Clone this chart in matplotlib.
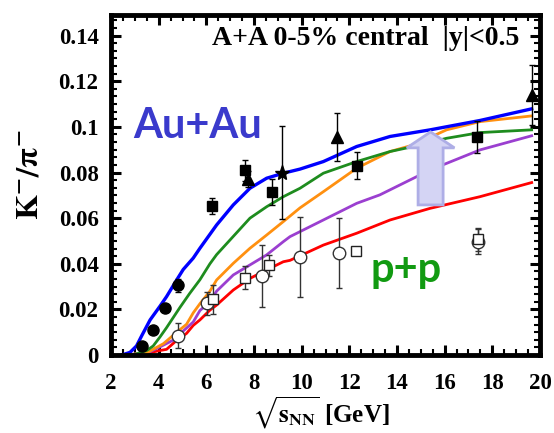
import matplotlib
matplotlib.use('Agg')
import matplotlib.pyplot as plt
from matplotlib.ticker import MultipleLocator, AutoMinorLocator
from matplotlib.patches import FancyArrow

plt.rcParams['mathtext.fontset'] = 'stix'
serif = 'Liberation Serif'

# ---- model curves (K-/pi- vs sqrt(s_NN))
blue_x = [2.45, 2.8, 3.07, 3.29, 3.64, 4.06, 4.33, 4.76, 5.03, 5.45, 5.73, 6.43, 7.13, 7.83, 8.53, 9.23, 9.93, 10.91, 12.31, 13.71, 15.39, 17.48, 19.65]
blue_y = [0.0, 0.0012, 0.004, 0.0085, 0.0154, 0.0215, 0.0256, 0.033, 0.0375, 0.0425, 0.0468, 0.057, 0.0658, 0.0731, 0.0775, 0.0797, 0.0815, 0.0848, 0.0914, 0.0958, 0.0987, 0.1028, 0.1079]

green_x = [2.6, 3.0, 3.5, 3.77, 4.06, 4.33, 4.9, 5.3, 5.73, 6.15, 6.43, 7.13, 7.83, 8.53, 9.23, 9.93, 10.91, 12.31, 13.71, 14.69, 16.08, 17.48, 19.65]
green_y = [0.0, 0.0003, 0.002, 0.004, 0.008, 0.012, 0.021, 0.027, 0.033, 0.040, 0.044, 0.052, 0.060, 0.065, 0.0694, 0.0731, 0.0797, 0.0848, 0.0892, 0.0914, 0.095, 0.0975, 0.0987]

orange_x = [2.6, 3.5, 4.2, 4.76, 5.17, 5.45, 5.73, 6.15, 6.43, 7.13, 7.83, 8.53, 9.23, 9.93, 10.91, 12.31, 13.71, 14.69, 16.08, 17.48, 19.65]
orange_y = [0.0, 0.001, 0.005, 0.010, 0.0135, 0.0185, 0.0225, 0.028, 0.0329, 0.0402, 0.0468, 0.0526, 0.0585, 0.0645, 0.0716, 0.0819, 0.0892, 0.0921, 0.0987, 0.1023, 0.1048]

purple_x = [2.7, 3.64, 4.06, 4.62, 4.76, 5.45, 5.73, 6.15, 6.43, 7.13, 7.83, 8.53, 9.23, 9.51, 10.91, 12.31, 13.28, 15.39, 17.48, 19.65]
purple_y = [0.0, 0.0015, 0.0036, 0.0066, 0.008, 0.0145, 0.0195, 0.0234, 0.028, 0.0351, 0.0395, 0.0439, 0.0497, 0.0519, 0.0592, 0.0665, 0.0702, 0.0811, 0.0899, 0.0961]

red_x = [2.45, 3.36, 4.06, 4.33, 4.76, 5.17, 5.45, 5.73, 6.15, 6.43, 7.13, 7.83, 8.53, 9.23, 9.51, 9.93, 10.91, 12.31, 13.71, 15.39, 17.48, 19.65]
red_y = [0.0, 0.0005, 0.002, 0.0025, 0.0065, 0.0095, 0.013, 0.0154, 0.0197, 0.0219, 0.0285, 0.0336, 0.0373, 0.0409, 0.0415, 0.0435, 0.0482, 0.0534, 0.0592, 0.0643, 0.0694, 0.0756]

# ---- data points
fcirc_x = [3.29, 3.77, 4.27, 4.83]
fcirc_y = [0.004, 0.011, 0.0205, 0.0305]
fcirc_e = [0.0008, 0.001, 0.0012, 0.003]

fsq_x = [6.24, 7.62, 8.77, 12.33, 17.35]
fsq_y = [0.0652, 0.081, 0.0713, 0.083, 0.0955]
fsq_e = [0.0035, 0.0045, 0.0057, 0.006, 0.007]

tri_x = [7.76, 11.5, 19.65]
tri_y = [0.0772, 0.0957, 0.114]
tri_e = [0.0035, 0.0105, 0.013]

star_x = [9.16]
star_y = [0.080]
star_e = [0.0205]

ocirc_x = [4.83, 6.01, 8.32, 9.93, 11.58, 17.41]
ocirc_y = [0.0085, 0.0226, 0.0346, 0.043, 0.0446, 0.0497]
ocirc_e = [0.0055, 0.005, 0.0135, 0.0174, 0.0154, 0.0055]

osq_x = [6.29, 7.62, 8.63, 12.26, 17.41]
osq_y = [0.0244, 0.0339, 0.0393, 0.0455, 0.0507]
osq_e = [0.0065, 0.005, 0.0047, 0.0, 0.005]

# arrow: x centre, base, tip
arr_x, arr_y0, arr_y1 = 15.41, 0.0658, 0.0978

fig = plt.figure(figsize=(5.54, 4.33), dpi=100)
ax = fig.add_axes([0.2004, 0.180, 0.7743, 0.7852])

lw = 2.0
ax.plot(red_x, red_y, color='#ff0000', lw=lw, zorder=2)
ax.plot(purple_x, purple_y, color='#9b3fd0', lw=lw, zorder=2)
ax.plot(orange_x, orange_y, color='#ff9010', lw=lw, zorder=2)
ax.plot(green_x, green_y, color='#1e8c1e', lw=lw, zorder=2)
ax.plot(blue_x, blue_y, color='#0000ff', lw=lw + 0.4, zorder=2)

arrow = FancyArrow(arr_x, arr_y0, 0, arr_y1 - arr_y0, width=1.05, head_width=2.0,
                   head_length=0.007, length_includes_head=True,
                   facecolor='#d4d4f4', edgecolor='#aeaee6', lw=2.0, zorder=3)
ax.add_patch(arrow)

ekw = dict(ls='none', capsize=2.5, elinewidth=1.0, capthick=1.0, zorder=4)
ax.errorbar(fcirc_x, fcirc_y, yerr=fcirc_e, marker='o', ms=8, color='black', **ekw)
ax.errorbar(fsq_x, fsq_y, yerr=fsq_e, marker='s', ms=7, color='black', **ekw)
ax.errorbar(tri_x, tri_y, yerr=tri_e, marker='^', ms=8, color='black', **ekw)
ax.errorbar(star_x, star_y, yerr=star_e, marker='*', ms=11, color='black', **ekw)
ax.errorbar(ocirc_x, ocirc_y, yerr=ocirc_e, marker='o', ms=9, mfc='white', mec='#333333',
            mew=1.0, color='#333333', **ekw)
ax.errorbar(osq_x, osq_y, yerr=osq_e, marker='s', ms=6.5, mfc='white', mec='#222222',
            mew=1.0, color='#333333', **ekw)

ax.set_xlim(2, 20)
ax.set_ylim(0, 0.149)
ax.xaxis.set_major_locator(MultipleLocator(2))
ax.xaxis.set_minor_locator(MultipleLocator(0.5))
ax.yaxis.set_major_locator(MultipleLocator(0.02))
ax.yaxis.set_minor_locator(AutoMinorLocator(6))
ax.set_yticks([0, 0.02, 0.04, 0.06, 0.08, 0.1, 0.12, 0.14])
ax.set_yticklabels(['0', '0.02', '0.04', '0.06', '0.08', '0.1', '0.12', '0.14'])

for s in ax.spines.values():
    s.set_linewidth(3.5)
ax.tick_params(which='both', direction='in', top=True, right=True)
ax.tick_params(which='major', length=7, width=2.2)
ax.tick_params(which='minor', length=4.5, width=1.5)
ax.tick_params(axis='x', which='major', pad=13)
ax.tick_params(axis='y', which='major', pad=9)
for lab in ax.get_xticklabels() + ax.get_yticklabels():
    lab.set_fontfamily(serif)
    lab.set_fontweight('bold')
    lab.set_fontsize(16.5)

ax.set_xlabel(r'$\sqrt{\mathbf{s}_{\mathbf{NN}}}$ [GeV]', fontfamily=serif,
              fontweight='bold', fontsize=18)
ax.xaxis.set_label_coords(0.49, -0.115)
ax.set_ylabel(r'$\mathbf{K^{-}/\pi^{-}}$', fontsize=23)
ax.yaxis.set_label_coords(-0.155, 0.53)

ax.text(0.953, 0.912, 'A+A 0-5% central  |y|<0.5', transform=ax.transAxes,
        ha='right', va='baseline', fontfamily=serif, fontweight='bold', fontsize=20)
ax.text(0.051, 0.638, 'Au+Au', transform=ax.transAxes, ha='left', va='baseline',
        fontfamily='Lato', fontweight='bold', fontsize=30, color='#3a3acc')
ax.text(0.604, 0.215, 'p+p', transform=ax.transAxes, ha='left', va='baseline',
        fontfamily='Lato', fontweight='bold', fontsize=30, color='#119a11')

fig.savefig('out.png', dpi=100)
